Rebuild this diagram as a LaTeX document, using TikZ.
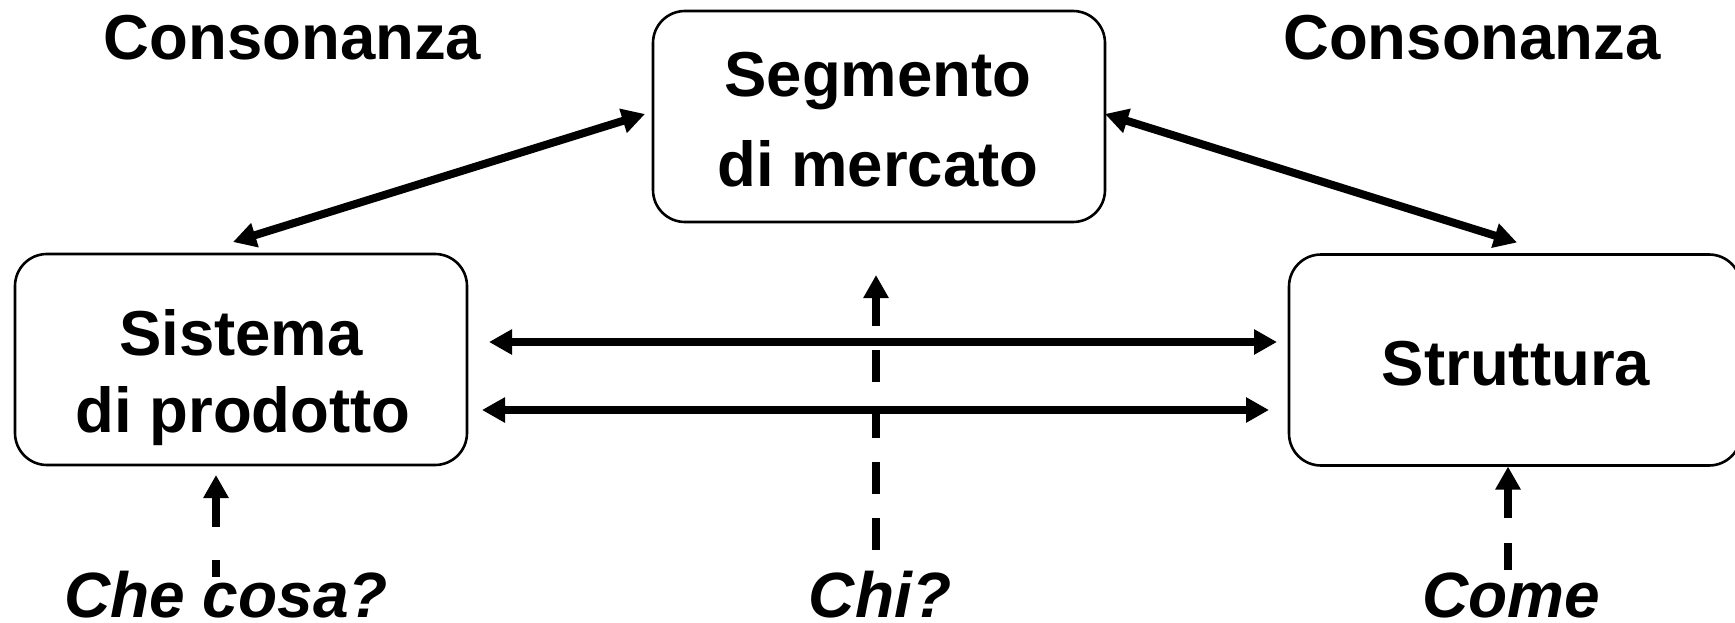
\documentclass[tikz,border=0pt]{standalone}
\usepackage{fontspec}
\setmainfont{Liberation Sans}
\usetikzlibrary{arrows.meta}
\begin{document}
\begin{tikzpicture}[x=1pt,y=-1pt,
  box/.style={draw, line width=2.6pt, rounded corners=32pt, minimum width=452pt, minimum height=211pt, inner sep=0pt, outer sep=0pt},
  txt/.style={font=\fontsize{63.5}{63.5}\selectfont\bfseries, anchor=base, inner sep=0pt, outer sep=0pt},
  qtxt/.style={font=\fontsize{64}{64}\selectfont\bfseries\itshape, anchor=base, inner sep=0pt, outer sep=0pt},
  tip/.tip={Triangle[length=23pt,width=24pt]},
  dbl/.style={line width=8pt, tip-tip},
  dasharr/.style={line width=7.5pt, -tip}
]
\useasboundingbox (0,0) rectangle (1735,623);

% boxes
\node[box] (sis) at (241,359.5) {};
\node[box] (seg) at (879,116.5) {};
\node[box] (stru) at (1515,360) {};

% box texts
\node[txt] (sis1) at (241,355) {Sistema};
\node[txt] (sis2) at (243,432) {di prodotto};
\node[txt] (seg1) at (878,97) {Segmento};
\node[txt] (seg2) at (878,186) {di mercato};
\node[txt] (stru1) at (1516,385) {Struttura};

% headings
\node[txt] (consL) at (292.5,60) {Consonanza};
\node[txt] (consR) at (1472,60) {Consonanza};

% questions
\node[qtxt] (che) at (226,617) {Che cosa?};
\node[qtxt] (chi) at (880,617) {Chi?};
\node[qtxt] (come) at (1511.5,617) {Come};

% double arrows
\draw[dbl] ([shift={(-8,-12)}]sis.north) -- ([shift={(-8,-2.5)}]seg.west);
\draw[dbl] ([shift={(0,-2.5)}]seg.east) -- ([shift={(2,-12)}]stru.north);
\draw[dbl] ([shift={(22,-17.5)}]sis.east) -- ([shift={(-12,-18)}]stru.west);
\draw[dbl] ([shift={(15,50.5)}]sis.east) -- ([shift={(-20,50)}]stru.west);

% dashed arrows
\draw[dasharr, dash pattern=on 17pt off 33pt on 60pt] ([shift={(-10,-40)}]che.base) -- ([shift={(-25,10)}]sis.south);
\draw[dasharr, dash pattern=on 32pt off 24pt] ([shift={(-4,-67)}]chi.base) -- ([shift={(-3,53)}]seg.south);
\draw[dasharr, dash pattern=on 27pt off 25pt on 60pt] ([shift={(-3.5,-47)}]come.base) -- ([shift={(-7,1)}]stru.south);
\end{tikzpicture}
\end{document}
